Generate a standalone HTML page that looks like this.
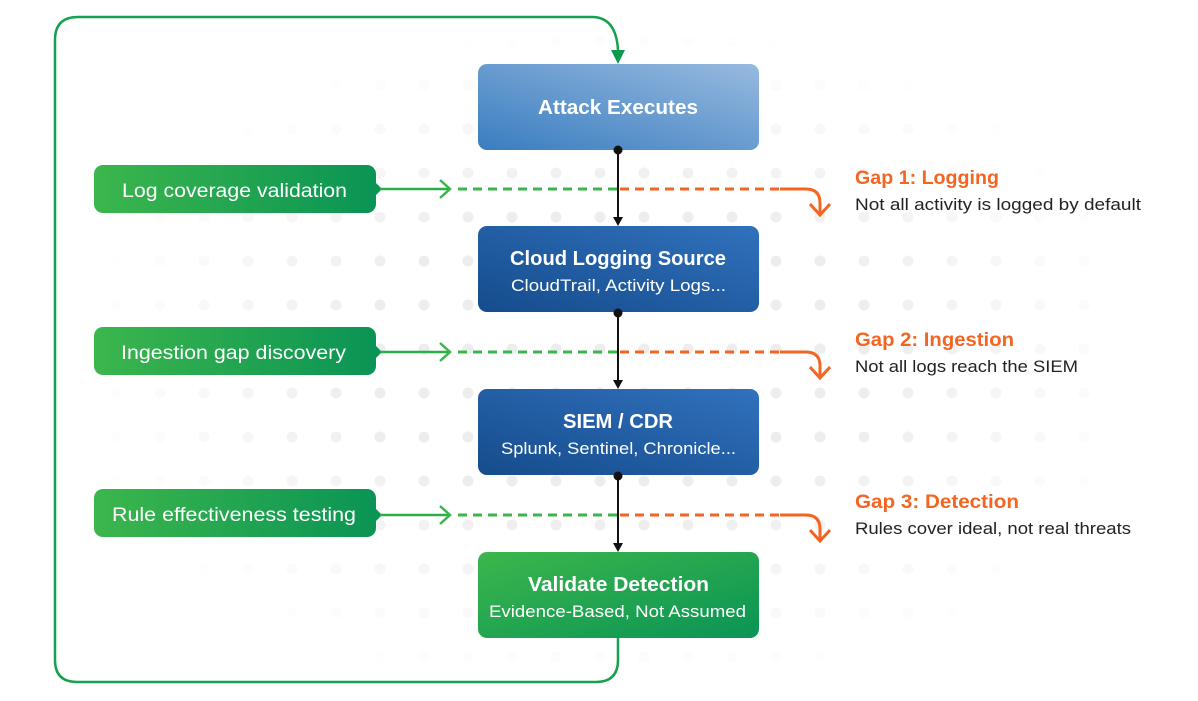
<!DOCTYPE html>
<html><head><meta charset="utf-8"><style>
html,body{margin:0;padding:0;background:#fff;}
svg{display:block;font-family:"Liberation Sans",sans-serif;}
</style></head><body>
<svg width="1198" height="701" viewBox="0 0 1198 701" xmlns="http://www.w3.org/2000/svg">
<defs>
<pattern id="dots" x="0" y="0" width="44" height="44" patternUnits="userSpaceOnUse" patternTransform="translate(358,19)">
<circle cx="22" cy="22" r="5.5" fill="#ededed"/>
</pattern>
<radialGradient id="fade" cx="620" cy="360" r="560" gradientUnits="userSpaceOnUse" gradientTransform="translate(620 360) scale(1 0.62) translate(-620 -360)">
<stop offset="0.45" stop-color="#fff"/><stop offset="0.85" stop-color="#fff" stop-opacity="0.2"/><stop offset="1" stop-color="#fff" stop-opacity="0"/>
</radialGradient>
<mask id="m"><rect width="1198" height="701" fill="url(#fade)"/></mask>
<linearGradient id="g1" x1="0" y1="1" x2="1" y2="0"><stop offset="0" stop-color="#3a7dc0"/><stop offset="1" stop-color="#97badf"/></linearGradient>
<linearGradient id="g2" x1="0" y1="1" x2="1" y2="0"><stop offset="0" stop-color="#154c8c"/><stop offset="1" stop-color="#3171bd"/></linearGradient>
<linearGradient id="g4" x1="0" y1="0" x2="1" y2="1"><stop offset="0" stop-color="#3cb64c"/><stop offset="1" stop-color="#0a9455"/></linearGradient>
<linearGradient id="gp" x1="0" y1="0" x2="1" y2="0"><stop offset="0" stop-color="#3cb64c"/><stop offset="1" stop-color="#0a9455"/></linearGradient>
</defs>
<rect x="100" y="30" width="1000" height="650" fill="url(#dots)" mask="url(#m)"/>

<path d="M618 638 V660 Q618 682 596 682 H77 Q55 682 55 660 V40 Q55 17 78 17 H592 Q616 17 618 50" fill="none" stroke="#16a050" stroke-width="2.5"/>
<path d="M611 50 L625 50 L618 64 Z" fill="#0d9a50"/>

<rect x="478" y="64" width="281" height="86" rx="9" fill="url(#g1)"/>
<text x="538" y="114" fill="#fff" font-size="20" font-weight="bold" textLength="160" lengthAdjust="spacingAndGlyphs">Attack Executes</text>
<rect x="478" y="226" width="281" height="86" rx="9" fill="url(#g2)"/>
<text x="510" y="265" fill="#fff" font-size="20" font-weight="bold" textLength="216" lengthAdjust="spacingAndGlyphs">Cloud Logging Source</text>
<text x="511" y="291" fill="#fff" font-size="17" textLength="215" lengthAdjust="spacingAndGlyphs">CloudTrail, Activity Logs...</text>
<rect x="478" y="389" width="281" height="86" rx="9" fill="url(#g2)"/>
<text x="563" y="428" fill="#fff" font-size="20" font-weight="bold" textLength="110" lengthAdjust="spacingAndGlyphs">SIEM / CDR</text>
<text x="501" y="454" fill="#fff" font-size="17" textLength="235" lengthAdjust="spacingAndGlyphs">Splunk, Sentinel, Chronicle...</text>
<rect x="478" y="552" width="281" height="86" rx="9" fill="url(#g4)"/>
<text x="528" y="591" fill="#fff" font-size="20" font-weight="bold" textLength="181" lengthAdjust="spacingAndGlyphs">Validate Detection</text>
<text x="489" y="617" fill="#fff" font-size="17" textLength="257" lengthAdjust="spacingAndGlyphs">Evidence-Based, Not Assumed</text>

<g>
<rect x="94" y="165" width="282" height="48" rx="9" fill="url(#gp)"/>
<path d="M374 181 L382 189 L374 197 Z" fill="#0a9455"/>
<line x1="380" y1="189" x2="450" y2="189" stroke="#2bae48" stroke-width="2.5"/>
<path d="M440 180 L450 189 L440 198" fill="none" stroke="#3cb64c" stroke-width="2.5"/>
<line x1="458" y1="189" x2="618" y2="189" stroke="#3cb64c" stroke-width="3" stroke-dasharray="9,6"/>
<line x1="620" y1="189" x2="780" y2="189" stroke="#f26522" stroke-width="3" stroke-dasharray="9,6"/>
<path d="M780 189 H806 Q820 189 820 203 V214" fill="none" stroke="#f26522" stroke-width="3"/>
<path d="M810 204 L820 215 L830 204" fill="none" stroke="#f26522" stroke-width="3"/>
<text x="122" y="197" fill="#fff" font-size="19" textLength="225" lengthAdjust="spacingAndGlyphs">Log coverage validation</text>
<text x="855" y="184" fill="#f26522" font-size="19" font-weight="bold" textLength="144" lengthAdjust="spacingAndGlyphs">Gap 1: Logging</text>
<text x="855" y="210" fill="#222" font-size="16.5" textLength="286" lengthAdjust="spacingAndGlyphs">Not all activity is logged by default</text>
</g>
<g transform="translate(0,163)">
<rect x="94" y="164" width="282" height="48" rx="9" fill="url(#gp)"/>
<path d="M374 181 L382 189 L374 197 Z" fill="#0a9455"/>
<line x1="380" y1="189" x2="450" y2="189" stroke="#2bae48" stroke-width="2.5"/>
<path d="M440 180 L450 189 L440 198" fill="none" stroke="#3cb64c" stroke-width="2.5"/>
<line x1="458" y1="189" x2="618" y2="189" stroke="#3cb64c" stroke-width="3" stroke-dasharray="9,6"/>
<line x1="620" y1="189" x2="780" y2="189" stroke="#f26522" stroke-width="3" stroke-dasharray="9,6"/>
<path d="M780 189 H806 Q820 189 820 203 V214" fill="none" stroke="#f26522" stroke-width="3"/>
<path d="M810 204 L820 215 L830 204" fill="none" stroke="#f26522" stroke-width="3"/>
<text x="121" y="196" fill="#fff" font-size="19" textLength="225" lengthAdjust="spacingAndGlyphs">Ingestion gap discovery</text>
<text x="855" y="183" fill="#f26522" font-size="19" font-weight="bold" textLength="159" lengthAdjust="spacingAndGlyphs">Gap 2: Ingestion</text>
<text x="855" y="209" fill="#222" font-size="16.5" textLength="223" lengthAdjust="spacingAndGlyphs">Not all logs reach the SIEM</text>
</g>
<g transform="translate(0,326)">
<rect x="94" y="163" width="282" height="48" rx="9" fill="url(#gp)"/>
<path d="M374 181 L382 189 L374 197 Z" fill="#0a9455"/>
<line x1="380" y1="189" x2="450" y2="189" stroke="#2bae48" stroke-width="2.5"/>
<path d="M440 180 L450 189 L440 198" fill="none" stroke="#3cb64c" stroke-width="2.5"/>
<line x1="458" y1="189" x2="618" y2="189" stroke="#3cb64c" stroke-width="3" stroke-dasharray="9,6"/>
<line x1="620" y1="189" x2="780" y2="189" stroke="#f26522" stroke-width="3" stroke-dasharray="9,6"/>
<path d="M780 189 H806 Q820 189 820 203 V214" fill="none" stroke="#f26522" stroke-width="3"/>
<path d="M810 204 L820 215 L830 204" fill="none" stroke="#f26522" stroke-width="3"/>
<text x="112" y="195" fill="#fff" font-size="19" textLength="244" lengthAdjust="spacingAndGlyphs">Rule effectiveness testing</text>
<text x="855" y="182" fill="#f26522" font-size="19" font-weight="bold" textLength="164" lengthAdjust="spacingAndGlyphs">Gap 3: Detection</text>
<text x="855" y="208" fill="#222" font-size="16.5" textLength="276" lengthAdjust="spacingAndGlyphs">Rules cover ideal, not real threats</text>
</g>

<g stroke="#111" stroke-width="2">
<line x1="618" y1="150" x2="618" y2="218"/>
<line x1="618" y1="313" x2="618" y2="381"/>
<line x1="618" y1="476" x2="618" y2="544"/>
</g>
<g fill="#111">
<circle cx="618" cy="150" r="4.5"/><path d="M613 217 L623 217 L618 226 Z"/>
<circle cx="618" cy="313" r="4.5"/><path d="M613 380 L623 380 L618 389 Z"/>
<circle cx="618" cy="476" r="4.5"/><path d="M613 543 L623 543 L618 552 Z"/>
</g>
</svg>
</body></html>
